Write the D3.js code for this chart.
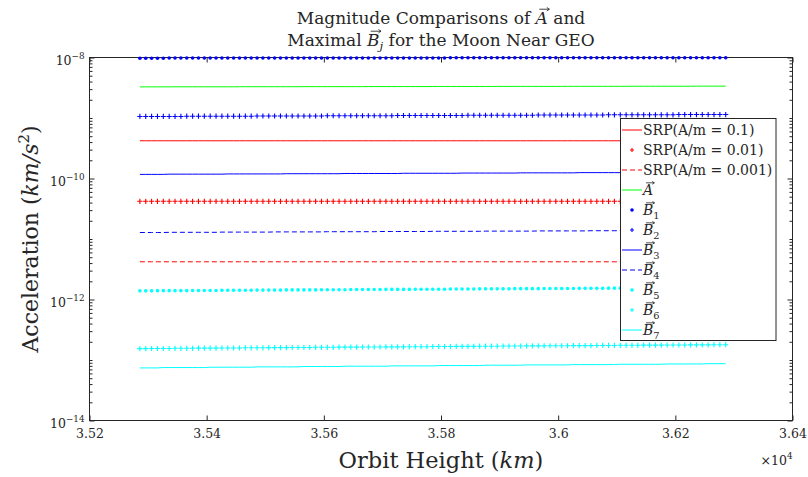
<!DOCTYPE html>
<html>
<head>
<meta charset="utf-8">
<script src="https://cdn.jsdelivr.net/npm/d3@7"></script>
<style>
  body { margin: 0; background: #fff; }
  svg { display: block; }
</style>
</head>
<body>
<svg id="chart" width="808" height="477"></svg>
<script>
// orbit height samples (km)
const orbitHeight = [
    35286, 35296, 35306, 35316, 35326, 35336, 35346, 35356, 35366, 35376,
    35386, 35396, 35406, 35416, 35426, 35436, 35446, 35456, 35466, 35476,
    35486, 35496, 35506, 35516, 35526, 35536, 35546, 35556, 35566, 35576,
    35586, 35596, 35606, 35616, 35626, 35636, 35646, 35656, 35666, 35676,
    35686, 35696, 35706, 35716, 35726, 35736, 35746, 35756, 35766, 35776,
    35786, 35796, 35806, 35816, 35826, 35836, 35846, 35856, 35866, 35876,
    35886, 35896, 35906, 35916, 35926, 35936, 35946, 35956, 35966, 35976,
    35986, 35996, 36006, 36016, 36026, 36036, 36046, 36056, 36066, 36076,
    36086, 36096, 36106, 36116, 36126, 36136, 36146, 36156, 36166, 36176,
    36186, 36196, 36206, 36216, 36226, 36236, 36246, 36256, 36266, 36276,
    36286
];

// SRP(A/m = 0.1), x 1e-11 km/s^2
const srp01 = [
    42, 42, 42, 42, 42, 42, 42, 42, 42, 42, 42, 42, 42, 42, 42, 42, 42, 42, 42, 42,
    42, 42, 42, 42, 42, 42, 42, 42, 42, 42, 42, 42, 42, 42, 42, 42, 42, 42, 42, 42,
    42, 42, 42, 42, 42, 42, 42, 42, 42, 42, 42, 42, 42, 42, 42, 42, 42, 42, 42, 42,
    42, 42, 42, 42, 42, 42, 42, 42, 42, 42, 42, 42, 42, 42, 42, 42, 42, 42, 42, 42,
    42, 42, 42, 42, 42, 42, 42, 42, 42, 42, 42, 42, 42, 42, 42, 42, 42, 42, 42, 42,
    42
];
// SRP(A/m = 0.01), x 1e-12
const srp001 = [
    42, 42, 42, 42, 42, 42, 42, 42, 42, 42, 42, 42, 42, 42, 42, 42, 42, 42, 42, 42,
    42, 42, 42, 42, 42, 42, 42, 42, 42, 42, 42, 42, 42, 42, 42, 42, 42, 42, 42, 42,
    42, 42, 42, 42, 42, 42, 42, 42, 42, 42, 42, 42, 42, 42, 42, 42, 42, 42, 42, 42,
    42, 42, 42, 42, 42, 42, 42, 42, 42, 42, 42, 42, 42, 42, 42, 42, 42, 42, 42, 42,
    42, 42, 42, 42, 42, 42, 42, 42, 42, 42, 42, 42, 42, 42, 42, 42, 42, 42, 42, 42,
    42
];
// SRP(A/m = 0.001), x 1e-13
const srp0001 = [
    42, 42, 42, 42, 42, 42, 42, 42, 42, 42, 42, 42, 42, 42, 42, 42, 42, 42, 42, 42,
    42, 42, 42, 42, 42, 42, 42, 42, 42, 42, 42, 42, 42, 42, 42, 42, 42, 42, 42, 42,
    42, 42, 42, 42, 42, 42, 42, 42, 42, 42, 42, 42, 42, 42, 42, 42, 42, 42, 42, 42,
    42, 42, 42, 42, 42, 42, 42, 42, 42, 42, 42, 42, 42, 42, 42, 42, 42, 42, 42, 42,
    42, 42, 42, 42, 42, 42, 42, 42, 42, 42, 42, 42, 42, 42, 42, 42, 42, 42, 42, 42,
    42
];
// A vector, x 1e-11
const aVec = [
    327, 327, 327, 327, 327, 327,
    328, 328, 328, 328, 328, 328, 328, 328, 328, 328, 328,
    329, 329, 329, 329, 329, 329, 329, 329, 329, 329, 329,
    330, 330, 330, 330, 330, 330, 330, 330, 330, 330, 330,
    331, 331, 331, 331, 331, 331, 331, 331, 331, 331, 331,
    332, 332, 332, 332, 332, 332, 332, 332, 332, 332, 332,
    333, 333, 333, 333, 333, 333, 333, 333, 333, 333, 333, 333,
    334, 334, 334, 334, 334, 334, 334, 334, 334, 334, 334,
    335, 335, 335, 335, 335, 335, 335, 335, 335, 335, 335,
    336, 336, 336, 336, 336, 336
];
// B1, x 1e-10
const b1 = [
    97, 97, 97, 97, 97,
    98, 98, 98, 98, 98, 98, 98, 98, 98, 98, 98, 98,
    98, 98, 98, 98, 98, 98, 98, 98, 98, 98, 98, 98,
    98, 98, 98, 98, 98, 98, 98, 98, 98, 98, 98, 98,
    98, 98, 98, 98, 98, 98, 98, 98, 98, 98, 98, 98,
    99, 99, 99, 99, 99, 99, 99, 99, 99, 99, 99, 99,
    99, 99, 99, 99, 99, 99, 99, 99, 99, 99, 99, 99,
    99, 99, 99, 99, 99, 99, 99, 99, 99, 99, 99, 99,
    99, 99, 99, 99, 99, 99, 99, 99, 99, 99, 99, 99
];
// B2, x 1e-11
const b2 = [
    106, 106, 106, 106, 106, 106, 106, 106,
    107, 107, 107, 107, 107, 107, 107, 107, 107, 107, 107, 107,
    108, 108, 108, 108, 108, 108, 108, 108, 108, 108, 108, 108,
    109, 109, 109, 109, 109, 109, 109, 109, 109, 109, 109, 109,
    110, 110, 110, 110, 110, 110, 110, 110, 110, 110, 110, 110,
    111, 111, 111, 111, 111, 111, 111, 111, 111, 111, 111, 111,
    112, 112, 112, 112, 112, 112, 112, 112, 112, 112, 112, 112,
    113, 113, 113, 113, 113, 113, 113, 113, 113, 113, 113, 113,
    114, 114, 114, 114, 114, 114, 114, 114, 114
];
// B3, x 1e-12
const b3 = [
    117, 117, 117, 117, 117,
    118, 118, 118, 118, 118, 118, 118, 118, 118, 118,
    119, 119, 119, 119, 119, 119, 119, 119, 119, 119,
    120, 120, 120, 120, 120, 120, 120, 120, 120, 120,
    121, 121, 121, 121, 121, 121, 121, 121, 121, 121,
    122, 122, 122, 122, 122, 122, 122, 122, 122, 122,
    123, 123, 123, 123, 123, 123, 123, 123, 123, 123,
    124, 124, 124, 124, 124, 124, 124, 124, 124, 124,
    125, 125, 125, 125, 125, 125, 125, 125, 125, 125,
    126, 126, 126, 126, 126, 126, 126, 126, 126, 126,
    127, 127, 127, 127, 127, 127
];
// B4, x 1e-13
const b4 = [
    128, 128, 128, 128, 128,
    129, 129, 129, 129, 129, 129, 129, 129, 129,
    130, 130, 130, 130, 130, 130, 130, 130, 130,
    131, 131, 131, 131, 131, 131, 131, 131, 131,
    132, 132, 132, 132, 132, 132, 132, 132, 132,
    133, 133, 133, 133, 133, 133, 133, 133, 133,
    134, 134, 134, 134, 134, 134, 134, 134, 134,
    135, 135, 135, 135, 135, 135, 135, 135, 135,
    136, 136, 136, 136, 136, 136, 136, 136, 136,
    137, 137, 137, 137, 137, 137, 137, 137, 137,
    138, 138, 138, 138, 138, 138, 138, 138, 138,
    139, 139, 139, 139, 139, 139
];
// B5, x 1e-14
const b5 = [
    139, 139, 139,
    140, 140, 140, 140, 140, 140, 141, 141, 141, 141, 141,
    142, 142, 142, 142, 142, 142, 143, 143, 143, 143, 143,
    144, 144, 144, 144, 144, 144, 145, 145, 145, 145, 145,
    146, 146, 146, 146, 146, 146, 147, 147, 147, 147, 147,
    148, 148, 148, 148, 148, 148, 149, 149, 149, 149, 149,
    150, 150, 150, 150, 150, 150, 151, 151, 151, 151, 151,
    152, 152, 152, 152, 152, 152, 153, 153, 153, 153, 153,
    154, 154, 154, 154, 154, 154, 155, 155, 155, 155, 155,
    156, 156, 156, 156, 156, 156,
    157, 157, 157, 157
];
// B6, x 1e-15
const b6 = [
    154, 154,
    155, 155, 155, 155, 156, 156, 156, 156, 157, 157, 157, 157, 158, 158, 158, 158,
    159, 159, 159, 159, 160, 160, 160, 160, 161, 161, 161, 161, 162, 162, 162, 162,
    163, 163, 163, 163, 164, 164, 164, 164, 165, 165, 165, 165, 166, 166, 166, 166,
    167, 167, 167, 167, 168, 168, 168, 168, 169, 169, 169, 169, 170, 170, 170, 170,
    171, 171, 171, 171, 172, 172, 172, 172, 173, 173, 173, 173, 174, 174, 174, 174,
    175, 175, 175, 175, 176, 176, 176, 176, 177, 177, 177, 177, 178, 178, 178, 178,
    179, 179, 179
];
// B7, x 1e-15
const b7 = [
    74, 74, 74, 74,
    75, 75, 75, 75, 75, 75, 75, 75,
    76, 76, 76, 76, 76, 76, 76, 76,
    77, 77, 77, 77, 77, 77, 77, 77,
    78, 78, 78, 78, 78, 78, 78,
    79, 79, 79, 79, 79, 79, 79, 79,
    80, 80, 80, 80, 80, 80, 80, 80,
    81, 81, 81, 81, 81, 81, 81, 81,
    82, 82, 82, 82, 82, 82, 82,
    83, 83, 83, 83, 83, 83, 83, 83,
    84, 84, 84, 84, 84, 84, 84, 84,
    85, 85, 85, 85, 85, 85, 85, 85,
    86, 86, 86, 86, 86, 86, 86,
    87, 87, 87, 87
];

const xTicks = [35200, 35400, 35600, 35800, 36000, 36200, 36400];
const xTickLabels = ['3.52', '3.54', '3.56', '3.58', '3.6', '3.62', '3.64'];
const yTicks = [1e-8, 1e-10, 1e-12, 1e-14];
const yTickExponents = ['\u22128', '\u221210', '\u221212', '\u221214'];

const FONT = "'DejaVu Serif', serif";
const INK = '#262626';
const PLOT = { left: 89.5, right: 792.5, top: 57.5, bottom: 420.5 };

const svg = d3.select('#chart');
svg.append('rect').attr('width', 808).attr('height', 477).attr('fill', '#fff');

const x = d3.scaleLinear().domain([35200, 36400]).range([PLOT.left, PLOT.right]);
const y = d3.scaleLog().domain([1e-14, 1e-8]).range([PLOT.bottom, PLOT.top]);

// minor log ticks
let yMinor = [];
for (let k = -14; k < -8; k++) {
    for (let m = 1; m <= 9; m++) {
        if (m === 1 && k % 2 === 0) continue;
        yMinor.push(m * Math.pow(10, k));
    }
}

function styleAxis(g) {
    g.select('.domain').remove();
    g.attr('font-family', FONT);
    g.selectAll('line').attr('stroke', INK).attr('stroke-width', 1);
    g.selectAll('text').attr('fill', INK);
}

// frame
svg.append('rect')
    .attr('x', PLOT.left).attr('y', PLOT.top)
    .attr('width', PLOT.right - PLOT.left).attr('height', PLOT.bottom - PLOT.top)
    .attr('fill', 'none').attr('stroke', INK).attr('stroke-width', 1);

// x axis bottom / top
svg.append('g').attr('transform', `translate(0,${PLOT.bottom})`)
    .call(d3.axisBottom(x).tickValues(xTicks).tickSize(-5).tickSizeOuter(0).tickPadding(9)
        .tickFormat((d, i) => xTickLabels[i]))
    .call(styleAxis)
    .attr('font-size', 12.5);
svg.append('g').attr('transform', `translate(0,${PLOT.top})`)
    .call(d3.axisTop(x).tickValues(xTicks).tickSize(-5).tickSizeOuter(0).tickFormat(''))
    .call(styleAxis);

// y axis left / right, major + minor
svg.append('g').attr('transform', `translate(${PLOT.left},0)`)
    .call(d3.axisLeft(y).tickValues(yTicks).tickSize(-5).tickSizeOuter(0).tickFormat(''))
    .call(styleAxis);
svg.append('g').attr('transform', `translate(${PLOT.left},0)`)
    .call(d3.axisLeft(y).tickValues(yMinor).tickSize(-3).tickSizeOuter(0).tickFormat(''))
    .call(styleAxis);
svg.append('g').attr('transform', `translate(${PLOT.right},0)`)
    .call(d3.axisRight(y).tickValues(yTicks).tickSize(-5).tickSizeOuter(0).tickFormat(''))
    .call(styleAxis);
svg.append('g').attr('transform', `translate(${PLOT.right},0)`)
    .call(d3.axisRight(y).tickValues(yMinor).tickSize(-3).tickSizeOuter(0).tickFormat(''))
    .call(styleAxis);

// y tick labels 10^k
const yLab = svg.append('g').attr('font-family', FONT).attr('fill', INK);
yTicks.forEach((v, i) => {
    const t = yLab.append('text')
        .attr('x', PLOT.left - 5).attr('y', y(v) + 7.5)
        .attr('text-anchor', 'end').attr('font-size', 12.5);
    t.append('tspan').text('10');
    t.append('tspan').attr('dy', -6).attr('font-size', 8.8).text(yTickExponents[i]);
});

// x10^4
const mult = svg.append('text').attr('x', PLOT.right).attr('y', 465)
    .attr('text-anchor', 'end').attr('font-family', FONT).attr('font-size', 12.5).attr('fill', INK);
mult.append('tspan').text('\u00d710');
mult.append('tspan').attr('dy', -6).attr('font-size', 8.8).text('4');

// axis labels
const xl = svg.append('text').attr('x', (PLOT.left + PLOT.right) / 2).attr('y', 468)
    .attr('text-anchor', 'middle').attr('font-family', FONT).attr('font-size', 22.5).attr('fill', INK);
xl.append('tspan').text('Orbit Height (');
xl.append('tspan').attr('font-style', 'italic').text('km');
xl.append('tspan').text(')');

const yl = svg.append('text')
    .attr('transform', `translate(38,${(PLOT.top + PLOT.bottom) / 2}) rotate(-90)`)
    .attr('text-anchor', 'middle').attr('font-family', FONT).attr('font-size', 22).attr('fill', INK);
yl.append('tspan').text('Acceleration (');
yl.append('tspan').attr('font-style', 'italic').text('km/s');
yl.append('tspan').attr('dy', -9).attr('font-size', 15).text('2');
yl.append('tspan').attr('dy', 9).text(')');

// vector arrow above a character
function vecArrow(parent, textSel, idx, fs) {
    const node = textSel.node();
    const s = node.getStartPositionOfChar(idx);
    const e = node.getEndPositionOfChar(idx);
    const w = e.x - s.x;
    const x1 = s.x + w * 0.3, x2 = e.x + w * 0.12, yy = s.y - fs * 0.87;
    const h = fs * 0.1;
    parent.append('path')
        .attr('d', `M${x1},${yy}H${x2}M${x2 - h * 1.5},${yy - h}L${x2},${yy}L${x2 - h * 1.5},${yy + h}`)
        .attr('fill', 'none').attr('stroke', INK).attr('stroke-width', Math.max(0.8, fs * 0.05));
}

// title
const TFS = 17;
const titleG = svg.append('g').attr('font-family', FONT).attr('fill', INK);
const t1 = titleG.append('text').attr('x', (PLOT.left + PLOT.right) / 2).attr('y', 24)
    .attr('text-anchor', 'middle').attr('font-size', TFS);
t1.append('tspan').text('Magnitude Comparisons of ');
t1.append('tspan').attr('font-style', 'italic').text('A');
t1.append('tspan').text(' and');
vecArrow(titleG, t1, 25, TFS);

const t2 = titleG.append('text').attr('x', (PLOT.left + PLOT.right) / 2).attr('y', 46)
    .attr('text-anchor', 'middle').attr('font-size', TFS);
t2.append('tspan').text('Maximal ');
t2.append('tspan').attr('font-style', 'italic').text('B');
t2.append('tspan').attr('font-style', 'italic').attr('dy', 4).attr('font-size', TFS * 0.7).text('j');
t2.append('tspan').attr('dy', -4).text(' for the Moon Near GEO');
vecArrow(titleG, t2, 8, TFS);

// series
const RED = '#ff0000', BLUE = '#0000ff', GREEN = '#00ff00', CYAN = '#00ffff';
const series = [
    { values: srp01, unit: 1e-11, color: RED, kind: 'line', label: 'SRP(A/m = 0.1)' },
    { values: srp001, unit: 1e-12, color: RED, kind: 'plus', label: 'SRP(A/m = 0.01)' },
    { values: srp0001, unit: 1e-13, color: RED, kind: 'dash', label: 'SRP(A/m = 0.001)' },
    { values: aVec, unit: 1e-11, color: GREEN, kind: 'line', vec: 'A' },
    { values: b1, unit: 1e-10, color: BLUE, kind: 'dot', vec: 'B', sub: '1' },
    { values: b2, unit: 1e-11, color: BLUE, kind: 'plus', vec: 'B', sub: '2' },
    { values: b3, unit: 1e-12, color: BLUE, kind: 'line', vec: 'B', sub: '3' },
    { values: b4, unit: 1e-13, color: BLUE, kind: 'dash', vec: 'B', sub: '4' },
    { values: b5, unit: 1e-14, color: CYAN, kind: 'dot', vec: 'B', sub: '5' },
    { values: b6, unit: 1e-15, color: CYAN, kind: 'plus', vec: 'B', sub: '6' },
    { values: b7, unit: 1e-15, color: CYAN, kind: 'line', vec: 'B', sub: '7' }
];

const PLUS = 'M-2.6,0H2.6M0,-2.6V2.6';
const line = d3.line().x(d => x(d[0])).y(d => y(d[1]));
const dataG = svg.append('g');

series.forEach(s => {
    const pts = s.values.map((v, i) => [orbitHeight[i], v * s.unit]).filter(d => d[0] !== undefined);
    if (s.kind === 'line' || s.kind === 'dash') {
        dataG.append('path').datum(pts)
            .attr('d', line).attr('fill', 'none')
            .attr('stroke', s.color).attr('stroke-width', 1)
            .attr('stroke-dasharray', s.kind === 'dash' ? '5,3' : null);
    } else if (s.kind === 'dot') {
        dataG.append('g').selectAll('circle').data(pts).join('circle')
            .attr('cx', d => x(d[0])).attr('cy', d => y(d[1])).attr('r', 1.8)
            .attr('fill', s.color);
    } else {
        dataG.append('g').selectAll('path').data(pts).join('path')
            .attr('transform', d => `translate(${x(d[0])},${y(d[1])})`)
            .attr('d', PLUS).attr('stroke', s.color).attr('stroke-width', 1.1).attr('fill', 'none');
    }
});

// legend
const LEG = { x: 620.5, y: 118.5, w: 155.5, h: 222, row0: 130, step: 20, fs: 14 };
const leg = svg.append('g');
leg.append('rect').attr('x', LEG.x).attr('y', LEG.y).attr('width', LEG.w).attr('height', LEG.h)
    .attr('fill', '#fff').attr('stroke', INK).attr('stroke-width', 1);

series.forEach((s, i) => {
    const cy = LEG.row0 + i * LEG.step;
    if (s.kind === 'line' || s.kind === 'dash') {
        leg.append('line').attr('x1', 622).attr('x2', 642).attr('y1', cy).attr('y2', cy)
            .attr('stroke', s.color).attr('stroke-width', 1)
            .attr('stroke-dasharray', s.kind === 'dash' ? '5,3' : null);
    } else if (s.kind === 'dot') {
        leg.append('circle').attr('cx', 632).attr('cy', cy).attr('r', 1.8).attr('fill', s.color);
    } else {
        leg.append('path').attr('transform', `translate(632,${cy})`).attr('d', 'M-2,0H2M0,-2V2')
            .attr('stroke', s.color).attr('stroke-width', 1.1);
    }
    const t = leg.append('text').attr('x', 643).attr('y', cy + 5)
        .attr('font-family', FONT).attr('font-size', LEG.fs).attr('fill', INK);
    if (s.label) {
        t.text(s.label);
    } else {
        t.append('tspan').attr('font-style', 'italic').text(s.vec);
        if (s.sub) t.append('tspan').attr('dy', 3.5).attr('font-size', LEG.fs * 0.7).text(s.sub);
        vecArrow(leg, t, 0, LEG.fs);
    }
});
</script>
</body>
</html>
